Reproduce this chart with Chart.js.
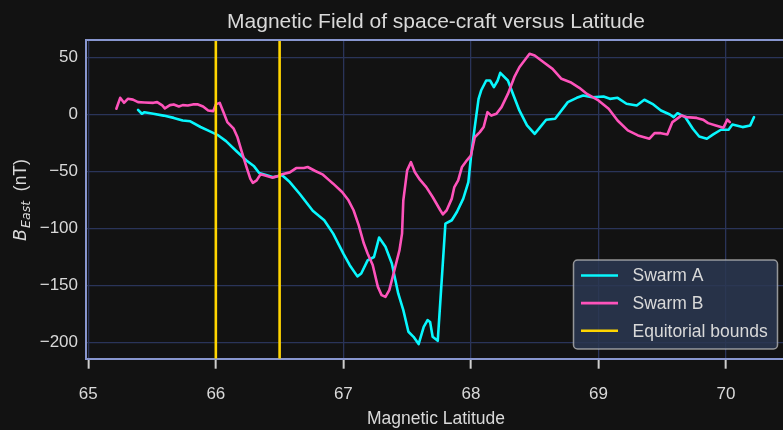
<!DOCTYPE html>
<html>
<head>
<meta charset="utf-8">
<script src="https://cdn.jsdelivr.net/npm/chart.js@4/dist/chart.umd.min.js"></script>
<style>
  html, body { margin: 0; padding: 0; background: #121212; overflow: hidden; }
  #wrap { width: 783px; height: 430px; position: relative; }
</style>
</head>
<body>
<div id="wrap"><canvas id="c" width="783" height="430"></canvas></div>
<script>
// Swarm A: magnetic latitude (deg) and east component of B (nT)
const latA = [65.39, 65.42, 65.44, 65.51, 65.59, 65.67, 65.74, 65.80, 65.88, 65.95,
  66.02, 66.08, 66.16, 66.24, 66.30, 66.34, 66.40, 66.45, 66.52, 66.58,
  66.66, 66.76, 66.85, 66.92, 67.00, 67.05, 67.11, 67.14, 67.19, 67.24,
  67.28, 67.33, 67.38, 67.43, 67.47, 67.51, 67.55, 67.59, 67.63, 67.66,
  67.68, 67.70, 67.74, 67.80, 67.85, 67.89, 67.94, 67.98, 68.00, 68.03,
  68.06, 68.08, 68.12, 68.15, 68.18, 68.21, 68.23, 68.29, 68.33, 68.38,
  68.44, 68.50, 68.54, 68.59, 68.66, 68.71, 68.76, 68.83, 68.88, 68.95,
  69.04, 69.09, 69.15, 69.22, 69.30, 69.36, 69.43, 69.49, 69.56, 69.59,
  69.62, 69.68, 69.74, 69.79, 69.85, 69.90, 69.96, 70.02, 70.05, 70.13,
  70.19, 70.22];
const bEastA = [4, 0.6, 2, 0.6, -1, -3, -5.3, -6, -11, -14.6,
  -18.4, -23.4, -32, -40.3, -45.5, -51.4, -53.4, -55, -53.4, -59.3,
  -70, -84.5, -92.8, -104.5, -122, -132.2, -142, -139.5, -128, -125,
  -108, -116, -130.7, -157, -171.6, -190.6, -195, -201.4, -186.3, -180.4,
  -182, -195, -198.5, -95.7, -92.8, -85.5, -73.8, -59.3, -37.4, -11.1,
  13.7, 21, 29.8, 29.8, 24, 29.8, 36.5, 29.8, 18, 3.5,
  -9.6, -17, -11.6, -4.6, -3.8, 3.5, 10.8, 14.6, 16.6, 15.1,
  15.8, 13.7, 14.6, 9.4, 7.9, 12.9, 8.8, 3.5, 0, -2.3,
  1.1, -2.3, -12.5, -19.3, -21.3, -17.5, -13.4, -13.4, -8.8, -11.1,
  -9.6, -2.3];

// Swarm B: magnetic latitude (deg) and east component of B (nT)
const latB = [65.22, 65.25, 65.28, 65.31, 65.35, 65.39, 65.44, 65.51, 65.54, 65.58,
  65.60, 65.64, 65.67, 65.71, 65.74, 65.78, 65.82, 65.86, 65.90, 65.94,
  65.98, 66.00, 66.03, 66.06, 66.09, 66.14, 66.17, 66.20, 66.24, 66.27,
  66.29, 66.32, 66.35, 66.38, 66.44, 66.48, 66.52, 66.58, 66.63, 66.69,
  66.72, 66.78, 66.84, 66.89, 66.92, 66.99, 67.04, 67.08, 67.12, 67.16,
  67.19, 67.23, 67.27, 67.30, 67.33, 67.36, 67.40, 67.44, 67.46, 67.47,
  67.50, 67.53, 67.56, 67.60, 67.65, 67.70, 67.76, 67.78, 67.81, 67.85,
  67.87, 67.90, 67.93, 67.97, 68.00, 68.03, 68.07, 68.10, 68.13, 68.16,
  68.20, 68.24, 68.29, 68.34, 68.38, 68.42, 68.46, 68.50, 68.57, 68.64,
  68.71, 68.78, 68.85, 68.91, 69.00, 69.08, 69.15, 69.23, 69.31, 69.40,
  69.44, 69.49, 69.54, 69.58, 69.65, 69.69, 69.77, 69.82, 69.86, 69.92,
  69.98, 70.01, 70.03];
const bEastB = [5, 14.6, 10.2, 13.7, 13, 10.8, 10.5, 10.2, 10.8, 7.9,
  5.3, 8.2, 8.8, 7, 8.2, 7.9, 8.8, 8.8, 7, 3.5,
  2.9, 8.8, 10.2, 2, -6.7, -12.5, -20, -31.5, -46, -56.3,
  -60, -57.8, -52.5, -53.4, -55.4, -54.3, -52.5, -50.8, -47, -47,
  -46.1, -49.6, -52.8, -57.8, -60.7, -68, -75.3, -84, -97, -113,
  -122, -132, -151, -158.5, -160, -154, -136.6, -119, -104.5, -75.3,
  -49, -41.8, -50.5, -57.2, -63.7, -72.4, -84, -87.6, -84, -73.8,
  -63.7, -57.8, -46, -40, -36, -20, -15.5, -11, 2, -1,
  0.6, 6.4, 18, 32.7, 41.4, 47.3, 53.2, 51.7, 45.8, 40,
  31.3, 28.3, 23.4, 18, 12.3, 5, -5.3, -14, -18.4, -21.3,
  -16.4, -16.4, -17.5, -6.7, -1, -2.3, -3, -4.6, -7.6, -9.6,
  -11.6, -4.6, -6.7];

// Equatorial boundary latitudes
const boundLats = [66.0, 66.5];

// Axis ranges and tick labels
const xRange = [64.982, 70.447];
const yRange = [-214.2, 65.3];
const xTicks = [65, 66, 67, 68, 69, 70];
const yTicks = [-200, -150, -100, -50, 0, 50];

const COLOR_A = '#08F7FE';
const COLOR_B = '#FE53BB';
const COLOR_BOUND = '#FFD500';
const GRID = '#2A3459';
const SPINE = '#8896CF';
const TEXT = '#D9D9D9';
const FONT = '"Liberation Sans", Arial, sans-serif';

const toPoints = (xs, ys) => xs.map((x, i) => ({ x: x, y: ys[i] }));

const lineStyle = (color) => ({
  borderColor: color,
  backgroundColor: color,
  borderWidth: 2.6,
  pointRadius: 0,
  pointHoverRadius: 0,
  tension: 0,
  fill: false,
  borderJoinStyle: 'round',
  borderCapStyle: 'round'
});

const datasets = [
  Object.assign({ label: 'Swarm A', data: toPoints(latA, bEastA), order: 2 }, lineStyle(COLOR_A)),
  Object.assign({ label: 'Swarm B', data: toPoints(latB, bEastB), order: 1 }, lineStyle(COLOR_B))
];
boundLats.forEach((lat, i) => {
  datasets.push(Object.assign({
    label: 'Equitorial bounds',
    data: [{ x: lat, y: yRange[0] }, { x: lat, y: yRange[1] }],
    order: 0,
    inLegend: i === 0
  }, lineStyle(COLOR_BOUND), { borderCapStyle: 'butt' }));
});

// Title, axis titles, top spine and the in-plot legend
const decorations = {
  id: 'decorations',
  afterDraw(chart) {
    const ctx = chart.ctx;
    const area = chart.chartArea;
    const midX = (area.left + 786) / 2;
    ctx.save();

    // top spine
    ctx.strokeStyle = SPINE;
    ctx.lineWidth = 2;
    ctx.beginPath();
    ctx.moveTo(area.left - 1, area.top);
    ctx.lineTo(chart.width, area.top);
    ctx.stroke();

    // title
    ctx.fillStyle = TEXT;
    ctx.textAlign = 'center';
    ctx.textBaseline = 'alphabetic';
    ctx.font = '21px ' + FONT;
    ctx.fillText('Magnetic Field of space-craft versus Latitude', midX, 27.5);

    // x axis title
    ctx.font = '17.5px ' + FONT;
    ctx.fillText('Magnetic Latitude', midX, 423.5);

    // y axis title: B_East (nT)
    const mainFont = 'italic 17.5px "DejaVu Sans", sans-serif';
    const subFont = 'italic 12.5px "DejaVu Sans", sans-serif';
    const unitFont = '17.5px ' + FONT;
    ctx.font = mainFont; const wB = ctx.measureText('B').width;
    ctx.font = subFont; const wSub = ctx.measureText('East').width;
    ctx.font = unitFont; const wUnit = ctx.measureText('  (nT)').width;
    const total = wB + 1 + wSub + wUnit;
    ctx.translate(25.5, 200);
    ctx.rotate(-Math.PI / 2);
    ctx.textAlign = 'left';
    let x = -total / 2;
    ctx.font = mainFont; ctx.fillText('B', x, 0); x += wB + 1;
    ctx.font = subFont; ctx.fillText('East', x, 4.5); x += wSub;
    ctx.font = unitFont; ctx.fillText('  (nT)', x, 0);
    ctx.setTransform(1, 0, 0, 1, 0, 0);

    // legend
    const bx = 573.5, by = 260, bw = 204, bh = 89;
    ctx.beginPath();
    ctx.roundRect(bx, by, bw, bh, 4);
    ctx.fillStyle = 'rgba(44, 56, 82, 0.85)';
    ctx.fill();
    ctx.strokeStyle = 'rgba(190, 190, 190, 0.75)';
    ctx.lineWidth = 1.5;
    ctx.stroke();

    const entries = chart.data.datasets.filter(d => d.inLegend !== false);
    ctx.font = '17.5px ' + FONT;
    ctx.textBaseline = 'middle';
    entries.forEach((d, i) => {
      const y = 275.5 + i * 27.6;
      ctx.strokeStyle = d.borderColor;
      ctx.lineWidth = 2.6;
      ctx.beginPath();
      ctx.moveTo(581, y);
      ctx.lineTo(618, y);
      ctx.stroke();
      ctx.fillStyle = TEXT;
      ctx.fillText(d.label, 632.5, y + 1);
    });
    ctx.restore();
  }
};

new Chart(document.getElementById('c'), {
  type: 'line',
  data: { datasets: datasets },
  options: {
    responsive: false,
    animation: false,
    devicePixelRatio: 1,
    layout: { padding: { top: 40, left: 0, right: 0, bottom: 0 } },
    plugins: { legend: { display: false }, tooltip: { enabled: false }, title: { display: false } },
    elements: { line: { clip: true } },
    scales: {
      x: {
        type: 'linear',
        min: xRange[0],
        max: xRange[1],
        afterBuildTicks: (s) => { s.ticks = xTicks.map(v => ({ value: v })); },
        afterFit: (s) => { s.height = 71.3; },
        ticks: { color: TEXT, font: { family: FONT, size: 17 }, padding: 15, maxRotation: 0,
                 callback: (v) => String(v) },
        grid: { color: GRID, lineWidth: 1.3, drawTicks: true, tickLength: 10, tickWidth: 2,
                tickColor: '#CFCFCF' },
        border: { display: true, color: SPINE, width: 2 }
      },
      y: {
        type: 'linear',
        min: yRange[0],
        max: yRange[1],
        afterBuildTicks: (s) => { s.ticks = yTicks.map(v => ({ value: v })); },
        afterFit: (s) => { s.width = 86; },
        ticks: { color: TEXT, font: { family: FONT, size: 17 }, padding: 8,
                 callback: (v) => (v < 0 ? '\u2212' + Math.abs(v) : String(v)) },
        grid: { color: GRID, lineWidth: 1.3, drawTicks: false },
        border: { display: true, color: SPINE, width: 2 }
      }
    }
  },
  plugins: [decorations]
});
</script>
</body>
</html>
